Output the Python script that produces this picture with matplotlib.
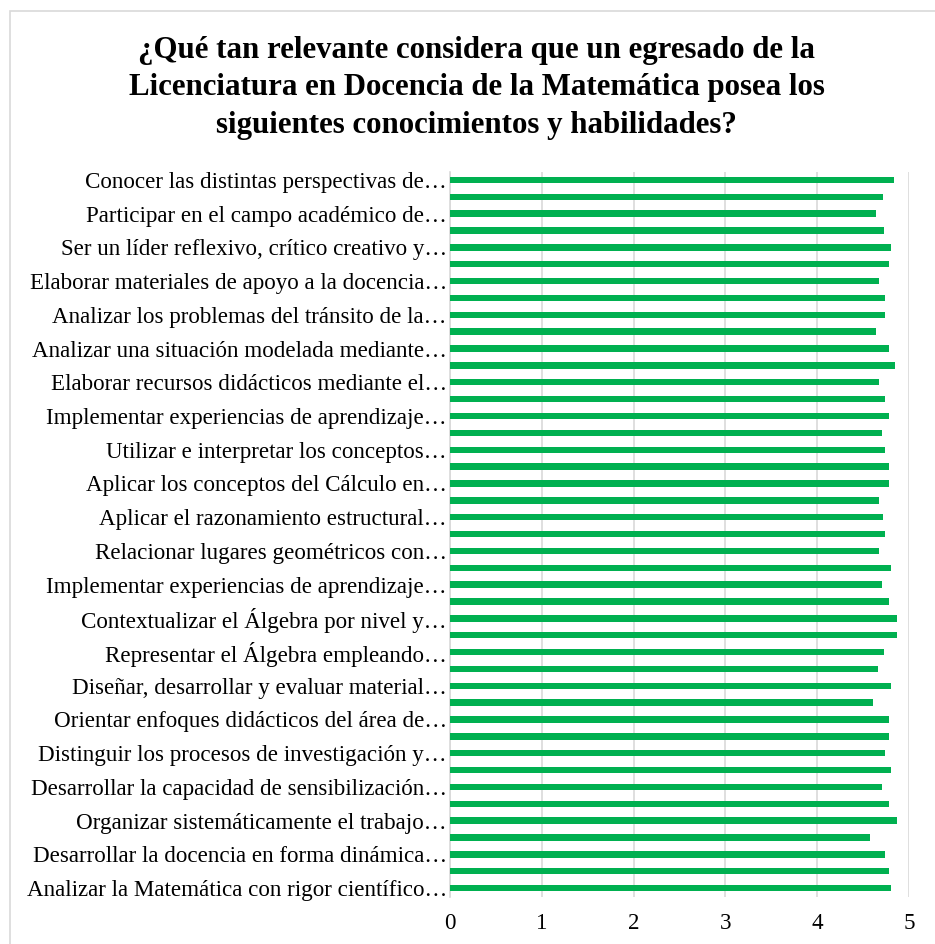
import matplotlib
matplotlib.use("Agg")
import matplotlib.pyplot as plt
from matplotlib.patches import Rectangle

# Etiquetas visibles (una de cada dos categorías, de arriba hacia abajo)
labels = [
    "Conocer las distintas perspectivas de…",
    "Participar en el campo académico de…",
    "Ser un líder reflexivo, crítico creativo y…",
    "Elaborar materiales de apoyo a la docencia…",
    "Analizar los problemas del tránsito de la…",
    "Analizar una situación modelada mediante…",
    "Elaborar recursos didácticos mediante el…",
    "Implementar experiencias de aprendizaje…",
    "Utilizar e interpretar los conceptos…",
    "Aplicar los conceptos del Cálculo en…",
    "Aplicar el razonamiento estructural…",
    "Relacionar lugares geométricos con…",
    "Implementar experiencias de aprendizaje…",
    "Contextualizar el Álgebra por nivel y…",
    "Representar el Álgebra empleando…",
    "Diseñar, desarrollar y evaluar material…",
    "Orientar enfoques didácticos del área de…",
    "Distinguir los procesos de investigación y…",
    "Desarrollar la capacidad de sensibilización…",
    "Organizar sistemáticamente el trabajo…",
    "Desarrollar la docencia en forma dinámica…",
    "Analizar la Matemática con rigor científico…",
]

# Promedios de cada ítem (43 barras, de arriba hacia abajo)
values = [
    4.83, 4.71, 4.64, 4.73, 4.80, 4.78, 4.67, 4.74, 4.74, 4.64, 4.78,
    4.84, 4.67, 4.74, 4.78, 4.70, 4.74, 4.78, 4.78, 4.67, 4.71, 4.74,
    4.67, 4.80, 4.70, 4.78, 4.87, 4.87, 4.73, 4.66, 4.80, 4.60, 4.78,
    4.78, 4.74, 4.80, 4.70, 4.78, 4.87, 4.57, 4.74, 4.78, 4.80,
]

xticks = [0, 1, 2, 3, 4, 5]

title = ("¿Qué tan relevante considera que un egresado de la\n"
         "Licenciatura en Docencia de la Matemática posea los\n"
         "siguientes conocimientos y habilidades?")

GREEN = "#00B050"
GRID = "#D9D9D9"

plt.rcParams["font.family"] = ["Liberation Serif", "DejaVu Serif"]

fig = plt.figure(figsize=(9.35, 9.44), dpi=100)
ax = fig.add_axes([0.481, 0.0503, 0.4915, 0.768])

pos = list(range(len(values)))
ax.barh(pos, values, height=0.38, color=GREEN, zorder=3)

ax.set_xlim(0, 5)
ax.set_ylim(len(values) - 0.5, -0.5)
ax.set_xticks(xticks)
ax.set_xticklabels([str(t) for t in xticks], fontsize=16.6)
ax.set_yticks(pos[::2])
ax.set_yticklabels(labels, fontsize=16.6)
ax.tick_params(axis="both", length=0)
ax.tick_params(axis="x", pad=12)
ax.tick_params(axis="y", pad=2)

ax.xaxis.grid(True, color=GRID, linewidth=1.2, zorder=0)
for side in ["top", "right", "bottom"]:
    ax.spines[side].set_visible(False)
ax.spines["left"].set_color(GRID)
ax.spines["left"].set_linewidth(1.2)

fig.text(0.510, 0.907, title, ha="center", va="center", fontsize=22.2,
         fontweight="bold", linespacing=1.38)

# marco del área del gráfico
fig.patches.append(Rectangle((10 / 935, -0.05), 1.1, 1.05 - 11 / 944,
                             transform=fig.transFigure, fill=False,
                             edgecolor=GRID, linewidth=1.2))

fig.savefig("out.png", dpi=100)
